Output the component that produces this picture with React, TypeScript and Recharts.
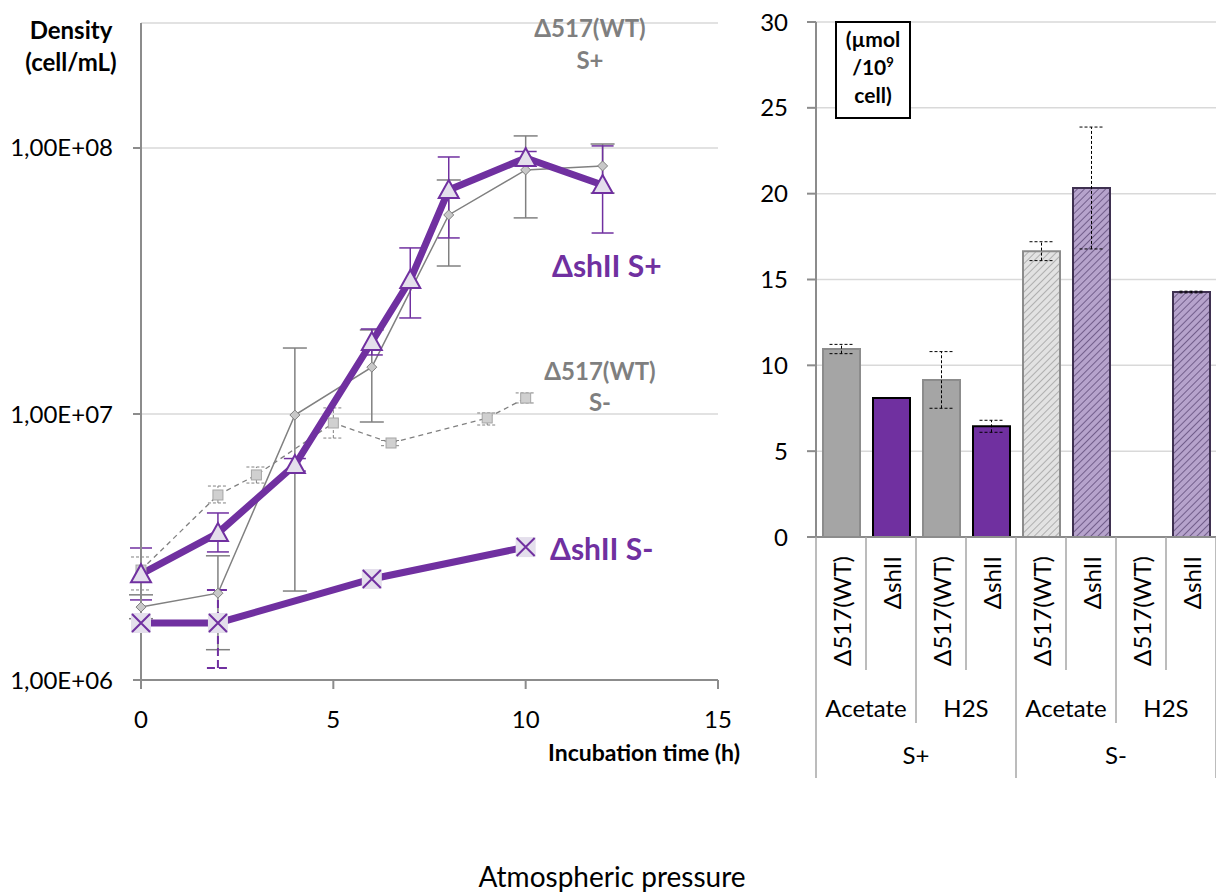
import React from 'react';
import { LineChart, Line, XAxis, YAxis, CartesianGrid, ErrorBar, BarChart, Bar, Cell } from 'recharts';

const FONT = 'Lato, "Open Sans", sans-serif';
const PURPLE = '#7030A0';
const GRAY = '#808080';
const LAVENDER = '#E4DFEC';
const GRID = '#D9D9D9';
const AXIS = '#8C8C8C';

// growth curves (cell/mL), low/high = error bar ends
const TIME_SHII_SP = [0, 2, 4, 6, 7, 8, 10, 12];
const DENS_SHII_SP = [2.5e6, 3.57e6, 6.43e6, 1.865e7, 3.19e7, 6.95e7, 9.17e7, 7.26e7];
const LOW_SHII_SP = [2.0e6, 3.03e6, 6.1e6, 1.667e7, 2.296e7, 4.59e7, 8.7e7, 4.79e7];
const HIGH_SHII_SP = [3.135e6, 4.245e6, 6.8e6, 2.087e7, 4.21e7, 9.25e7, 9.7e7, 1.018e8];

const TIME_WT_SP = [0, 2, 4, 6, 8, 10, 12];
const DENS_WT_SP = [1.88e6, 2.12e6, 9.91e6, 1.5e7, 5.6e7, 8.27e7, 8.56e7];
const LOW_WT_SP = [1.7e6, 1.3e6, 2.16e6, 9.33e6, 3.6e7, 5.46e7, 6.77e7];
const HIGH_WT_SP = [2.09e6, 2.93e6, 1.77e7, 2.07e7, 7.58e7, 1.11e8, 1.035e8];

const TIME_WT_SM = [0, 2, 3, 5, 6.5, 9, 10];
const DENS_WT_SM = [2.59e6, 4.96e6, 5.9e6, 9.25e6, 7.78e6, 9.66e6, 1.148e7];
const LOW_WT_SM = [2.18e6, 4.63e6, 5.5e6, 8.12e6, 7.6e6, 9.09e6, 1.1e7];
const HIGH_WT_SM = [2.9e6, 5.36e6, 6.32e6, 1.054e7, 7.95e6, 1.009e7, 1.2e7];

const TIME_SHII_SM = [0, 2, 6, 10];
const DENS_SHII_SM = [1.638e6, 1.638e6, 2.397e6, 3.16e6];
const LOW_SHII_SM = [1.638e6, 1.11e6, 2.397e6, 3.16e6];
const HIGH_SHII_SM = [1.638e6, 2.18e6, 2.397e6, 3.16e6];

const DENS_TICKS = [1e6, 1e7, 1e8];
const TIME_TICKS = [0, 5, 10, 15];

// production per 10^9 cells
const STRAIN = ['Δ517(WT)', 'ΔshII', 'Δ517(WT)', 'ΔshII', 'Δ517(WT)', 'ΔshII', 'Δ517(WT)', 'ΔshII'];
const SUBSTRATE = ['Acetate', 'Acetate', 'H2S', 'H2S', 'Acetate', 'Acetate', 'H2S', 'H2S'];
const SULFUR = ['S+', 'S+', 'S+', 'S+', 'S-', 'S-', 'S-', 'S-'];
const AMOUNT = [10.95, 8.1, 9.15, 6.45, 16.65, 20.33, 0, 14.27];
const AMOUNT_ERR = [0.27, null, 1.65, 0.35, 0.55, 3.55, null, 0.05];
const AMOUNT_TICKS = [0, 5, 10, 15, 20, 25, 30];

const toPoints = (t: number[], d: number[], lo: number[], hi: number[]) =>
  t.map((x, i) => ({
    x,
    y: d[i],
    err: lo[i] < d[i] || hi[i] > d[i] ? [d[i] - lo[i], hi[i] - d[i]] : null,
  }));

const shiiSp = toPoints(TIME_SHII_SP, DENS_SHII_SP, LOW_SHII_SP, HIGH_SHII_SP);
const wtSp = toPoints(TIME_WT_SP, DENS_WT_SP, LOW_WT_SP, HIGH_WT_SP);
const wtSm = toPoints(TIME_WT_SM, DENS_WT_SM, LOW_WT_SM, HIGH_WT_SM);
const shiiSm = toPoints(TIME_SHII_SM, DENS_SHII_SM, LOW_SHII_SM, HIGH_SHII_SM);

const barData = STRAIN.map((s, i) => ({
  strain: s,
  substrate: SUBSTRATE[i],
  sulfur: SULFUR[i],
  amount: AMOUNT[i],
  err: AMOUNT_ERR[i],
}));

const fmtSci = (v: number) => `1,00E+0${Math.round(Math.log10(v))}`;

const Triangle = (p: any) => (
  <path key={`t${p.index}`} d={`M${p.cx},${p.cy - 10} L${p.cx + 10},${p.cy + 8} L${p.cx - 10},${p.cy + 8} Z`}
    fill={LAVENDER} stroke={PURPLE} strokeWidth={2} />
);
const Diamond = (p: any) => (
  <path key={`d${p.index}`} d={`M${p.cx},${p.cy - 5} L${p.cx + 5},${p.cy} L${p.cx},${p.cy + 5} L${p.cx - 5},${p.cy} Z`}
    fill="#C8C8C8" stroke={GRAY} strokeWidth={1} />
);
const Square = (p: any) => (
  <rect key={`s${p.index}`} x={p.cx - 5} y={p.cy - 5} width={10} height={10} fill="#D0D0D0" stroke="#A6A6A6" strokeWidth={1} />
);
const Cross = (p: any) => (
  <g key={`x${p.index}`}>
    <rect x={p.cx - 10} y={p.cy - 10} width={20} height={20} fill={LAVENDER} />
    <path d={`M${p.cx - 9},${p.cy - 9} L${p.cx + 9},${p.cy + 9} M${p.cx + 9},${p.cy - 9} L${p.cx - 9},${p.cy + 9}`}
      stroke={PURPLE} strokeWidth={2} />
  </g>
);

const barFill = (d: any) => {
  if (d.sulfur === 'S+') return d.strain === 'ΔshII' ? PURPLE : '#A5A5A5';
  return d.strain === 'ΔshII' ? 'url(#hatchPurple)' : 'url(#hatchGray)';
};
const barStroke = (d: any) => {
  if (d.strain === 'ΔshII') return d.sulfur === 'S+' ? '#000' : '#3F3151';
  return AXIS;
};

const BAND = 50;

const HierTick = (props: any) => {
  const { x, y, index } = props;
  const d = barData[index];
  if (!d) return null;
  const prev = barData[index - 1];
  let len = 133;
  if (!prev || prev.sulfur !== d.sulfur) len = 241;
  else if (prev.substrate !== d.substrate) len = 186;
  const firstSub = !prev || prev.substrate !== d.substrate || prev.sulfur !== d.sulfur;
  const firstSul = !prev || prev.sulfur !== d.sulfur;
  const last = index === barData.length - 1;
  return (
    <g>
      <line x1={x - BAND / 2} x2={x - BAND / 2} y1={y} y2={y + len} stroke="#A6A6A6" strokeWidth={1.5} />
      {last && <line x1={x + BAND / 2} x2={x + BAND / 2} y1={y} y2={y + 241} stroke="#A6A6A6" strokeWidth={1.5} />}
      <text transform={`translate(${x + 1},${y + 19}) rotate(-90)`} textAnchor="end" dy="0.36em"
        fontSize={24} fontFamily={FONT} fill="#000">{d.strain}</text>
      {firstSub && (
        <text x={x + BAND / 2} y={y + 171} textAnchor="middle" dy="0.36em" fontSize={24} fontFamily={FONT} fill="#000">
          {d.substrate}
        </text>
      )}
      {firstSul && (
        <text x={x + BAND * 1.5} y={y + 218} textAnchor="middle" dy="0.36em" fontSize={24} fontFamily={FONT} fill="#000">
          {d.sulfur}
        </text>
      )}
    </g>
  );
};

const abs = (left: number, top: number, extra: React.CSSProperties = {}): React.CSSProperties => ({
  position: 'absolute', left, top, fontFamily: FONT, whiteSpace: 'nowrap', ...extra,
});

export default function App() {
  const tickStyle = { fontSize: 24, fill: '#000', fontFamily: FONT };
  return (
    <div style={{ position: 'absolute', left: 0, top: 0, width: 1216, height: 894, background: '#fff', overflow: 'hidden' }}>
      <svg width={0} height={0} style={{ position: 'absolute' }}>
        <defs>
          <pattern id="hatchGray" width={5} height={5} patternUnits="userSpaceOnUse" patternTransform="rotate(45)">
            <rect width={5} height={5} fill="#E2E2E2" />
            <line x1={0} y1={0} x2={0} y2={5} stroke="#9E9E9E" strokeWidth={1.5} />
          </pattern>
          <pattern id="hatchPurple" width={5} height={5} patternUnits="userSpaceOnUse" patternTransform="rotate(45)">
            <rect width={5} height={5} fill="#B6A3CC" />
            <line x1={0} y1={0} x2={0} y2={5} stroke="#5B4775" strokeWidth={1.5} />
          </pattern>
        </defs>
      </svg>

      <div style={{ position: 'absolute', left: 0, top: 0 }}>
        <LineChart width={760} height={760} margin={{ top: 23, right: 42, left: 0, bottom: 20 }}>
          <CartesianGrid vertical={false} stroke={GRID} strokeWidth={1.5} />
          <XAxis type="number" dataKey="x" domain={[0, 15]} ticks={TIME_TICKS} height={60}
            tick={tickStyle} tickSize={9} tickMargin={22} allowDuplicatedCategory={false}
            axisLine={{ stroke: AXIS, strokeWidth: 2 }} tickLine={{ stroke: AXIS, strokeWidth: 2 }} />
          <YAxis type="number" scale="log" domain={[1e6, 2.95e8]} allowDataOverflow ticks={DENS_TICKS}
            tickFormatter={fmtSci} width={141} tick={tickStyle} tickSize={8} tickMargin={20}
            axisLine={{ stroke: AXIS, strokeWidth: 2 }} tickLine={{ stroke: AXIS, strokeWidth: 2 }} />
          <Line data={wtSm} dataKey="y" stroke={GRAY} strokeWidth={1.3} strokeDasharray="5 4"
            dot={(p: any) => <Square {...p} />} isAnimationActive={false}>
            <ErrorBar dataKey="err" width={10} stroke={GRAY} strokeWidth={1} strokeDasharray="3 2" direction="y" />
          </Line>
          <Line data={wtSp} dataKey="y" stroke={GRAY} strokeWidth={1.5}
            dot={(p: any) => <Diamond {...p} />} isAnimationActive={false}>
            <ErrorBar dataKey="err" width={12} stroke={GRAY} strokeWidth={1.5} direction="y" />
          </Line>
          <Line data={shiiSp} dataKey="y" stroke={PURPLE} strokeWidth={7}
            dot={(p: any) => <Triangle {...p} />} isAnimationActive={false}>
            <ErrorBar dataKey="err" width={11} stroke={PURPLE} strokeWidth={1.5} direction="y" />
          </Line>
          <Line data={shiiSm} dataKey="y" stroke={PURPLE} strokeWidth={7}
            dot={(p: any) => <Cross {...p} />} isAnimationActive={false}>
            <ErrorBar dataKey="err" width={11} stroke={PURPLE} strokeWidth={2} strokeDasharray="8 4" direction="y" />
          </Line>
        </LineChart>
      </div>

      <div style={abs(0, 14, { width: 142, textAlign: 'center', fontWeight: 700, fontSize: 24, lineHeight: '32px' })}>
        Density<br />(cell/mL)
      </div>
      <div style={abs(490, 12, { width: 200, textAlign: 'center', fontWeight: 700, fontSize: 24, lineHeight: '32px', color: '#7F7F7F' })}>
        Δ517(WT)<br />S+
      </div>
      <div style={abs(552, 247, { fontWeight: 700, fontSize: 30, lineHeight: '36px', color: PURPLE })}>ΔshII S+</div>
      <div style={abs(500, 355, { width: 200, textAlign: 'center', fontWeight: 700, fontSize: 24, lineHeight: '31px', color: '#7F7F7F' })}>
        Δ517(WT)<br />S-
      </div>
      <div style={abs(550, 530, { fontWeight: 700, fontSize: 30, lineHeight: '36px', color: PURPLE })}>ΔshII S-</div>
      <div style={abs(440, 736, { width: 300, textAlign: 'right', fontWeight: 700, fontSize: 23, lineHeight: '32px' })}>
        Incubation time (h)
      </div>

      <div style={{ position: 'absolute', left: 700, top: 0 }}>
        <BarChart width={516} height={800} data={barData} margin={{ top: 22, right: 0, left: 0, bottom: 0 }} barSize={37}>
          <CartesianGrid vertical={false} stroke={GRID} strokeWidth={1.5} />
          <XAxis dataKey="strain" interval={0} height={263} tickLine={false} tickSize={0} tickMargin={0}
            tick={<HierTick />} axisLine={{ stroke: AXIS, strokeWidth: 2 }} />
          <YAxis domain={[0, 30]} ticks={AMOUNT_TICKS} width={116} tick={tickStyle} tickSize={9} tickMargin={19}
            axisLine={{ stroke: AXIS, strokeWidth: 2 }} tickLine={{ stroke: AXIS, strokeWidth: 2 }} />
          <Bar dataKey="amount" isAnimationActive={false}>
            {barData.map((d, i) => (
              <Cell key={`c${i}`} fill={barFill(d)} stroke={barStroke(d)} strokeWidth={2} />
            ))}
            <ErrorBar dataKey="err" width={12} stroke="#000" strokeWidth={1} strokeDasharray="3 2" direction="y" />
          </Bar>
        </BarChart>
      </div>

      <div style={abs(835, 21, {
        width: 72, height: 92, border: '2px solid #000', textAlign: 'center', fontWeight: 700,
        fontSize: 21, lineHeight: '28px', paddingTop: 2, background: '#fff',
      })}>
        (µmol<br />/10<sup style={{ fontSize: 13, lineHeight: 0 }}>9</sup><br />cell)
      </div>

      <div style={abs(412, 861, { width: 400, textAlign: 'center', fontSize: 28, lineHeight: '30px' })}>
        Atmospheric pressure
      </div>
    </div>
  );
}
